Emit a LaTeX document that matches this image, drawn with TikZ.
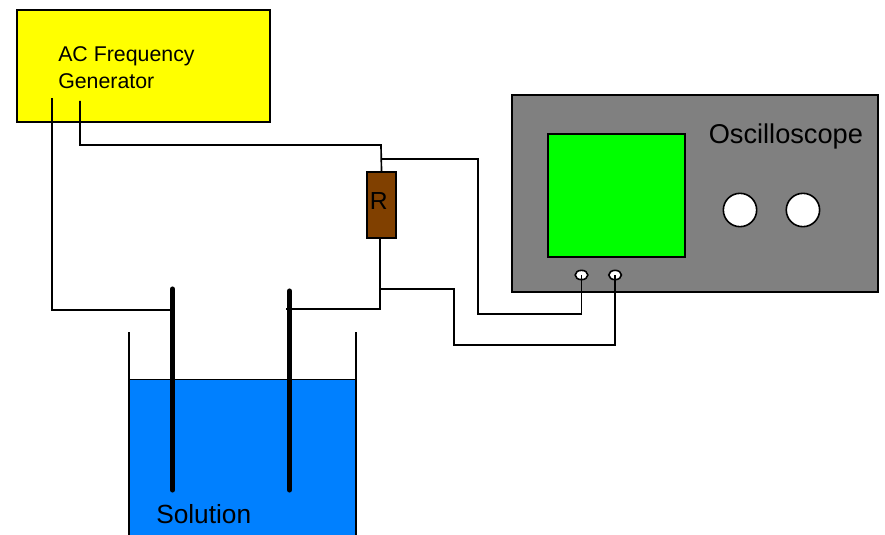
\documentclass[tikz,border=0pt]{standalone}
\usepackage{fontspec}
\setmainfont{Liberation Sans}
\usetikzlibrary{
    positioning,
    shapes.geometric
}
\definecolor{GenYellow}{RGB}{255,255,0}
\definecolor{ScopeGray}{RGB}{128,128,128}
\definecolor{ScreenGreen}{RGB}{0,255,0}
\definecolor{ResBrown}{RGB}{128,64,0}
\definecolor{WaterBlue}{RGB}{0,128,255}
\tikzset{
  panel/.style   = {draw, line width=1.5pt, inner sep=0pt},
  knob/.style    = {circle, draw, fill=white, line width=1.2pt, minimum size=25pt, inner sep=0pt},
  port/.style    = {ellipse, draw, fill=white, line width=1.2pt, minimum width=9.5pt,
                    minimum height=7pt, inner sep=0pt},
  caption/.style = {anchor=base west, inner sep=0pt},
  wire/.style    = {line width=1.25pt},
  electrode/.style = {line width=3.8pt, line cap=round},
  wall/.style    = {line width=1.25pt}
}

\begin{document}
\begin{tikzpicture}[x=0.75pt,y=-0.75pt]
\useasboundingbox (0,0) rectangle (885,535);
% solution and beaker
\fill[WaterBlue] (129,379) rectangle (356,535);
\coordinate (wallLt) at (129,332);
\coordinate (wallLb) at (129,535);
\coordinate (wallRt) at (356,332);
\coordinate (wallRb) at (356,535);
\coordinate (levelL) at (129,379);
\coordinate (levelR) at (356,379);
\draw[wall] (wallLt) -- (wallLb);
\draw[wall] (wallRt) -- (wallRb);
\draw[line width=0.7pt] (levelL) -- (levelR);
\node[caption,font=\fontsize{19.7}{24}\selectfont] (solution) at (156,523) {Solution};
% electrodes
\coordinate (elecLt) at (172.5,289);
\coordinate (elecLb) at (172.5,490);
\coordinate (elecRt) at (289.5,291);
\coordinate (elecRb) at (289.5,490);
\coordinate (elecLw) at (172.5,310);
\coordinate (elecRw) at (286,309);
\draw[electrode] (elecLt) -- (elecLb);
\draw[electrode] (elecRt) -- (elecRb);
% generator
\node[panel,fill=GenYellow,minimum width=189.75pt,minimum height=84pt] (gen) at (143.5,66) {};
\node[caption,align=left,font=\fontsize{16}{20.25}\selectfont,anchor=north west] (genlabel) at (58,46.5) {AC Frequency\\Generator};
% resistor
\node[panel,fill=ResBrown,minimum width=21.75pt,minimum height=49.5pt] (res) at (381.5,205) {};
\node[caption,font=\fontsize{18.5}{22}\selectfont] (reslabel) at (369.5,209) {R};
% oscilloscope
\node[panel,fill=ScopeGray,minimum width=274.5pt,minimum height=147.75pt] (scope) at (695,193.5) {};
\node[panel,fill=ScreenGreen,minimum width=102.75pt,minimum height=92.25pt] (screen) at (616.5,195.5) {};
\node[caption,font=\fontsize{20.4}{24}\selectfont] (scopelabel) at (708.5,143) {Oscilloscope};
\node[knob] (knob1) at (740,210) {};
\node[knob,right=21pt of knob1] (knob2) {};
\node[port] (port1) at (581.5,275) {};
\node[port,right=14.5pt of port1] (port2) {};
% wiring
\coordinate (genA) at (52,98);
\coordinate (genB) at (80,101);
\coordinate (cornerB) at (381,145);
\coordinate (tapTop) at (381,159);
\coordinate (bendTop) at (478,314);
\coordinate (cornerR) at (380,309);
\coordinate (tapBot) at (380,289);
\coordinate (bendBot) at (454,345);
\draw[wire] (genA) |- (elecLw);
\draw[wire] (genB) |- (cornerB) -- (res.north);
\draw[wire] (res.south -| cornerR) -- (cornerR) -- (elecRw);
\draw[wire] (tapTop) -| (bendTop) -| (port1.center);
\draw[wire] (tapBot) -| (bendBot) -| (port2.center);
\end{tikzpicture}
\end{document}
